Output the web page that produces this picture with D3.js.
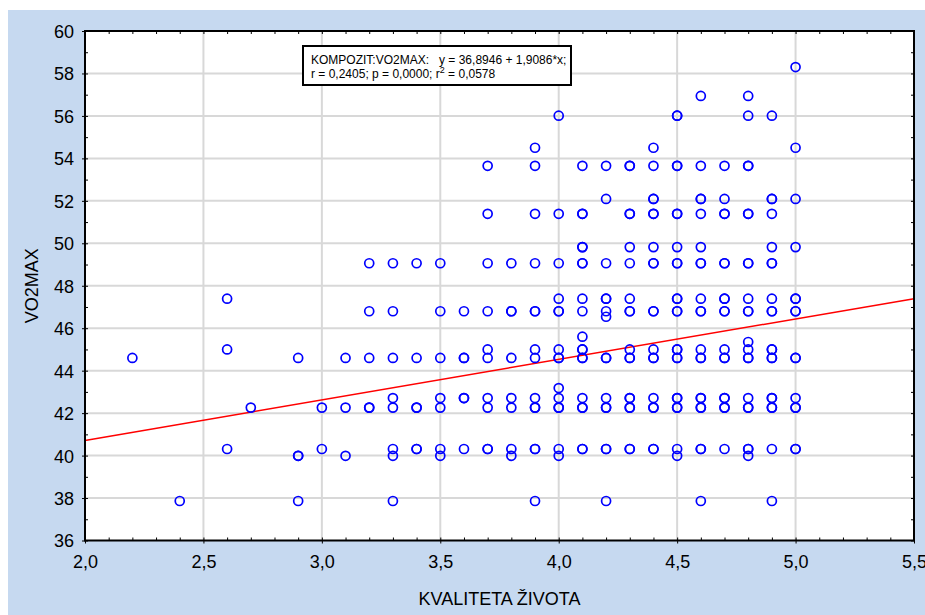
<!DOCTYPE html>
<html>
<head>
<meta charset="utf-8">
<script src="https://cdn.jsdelivr.net/npm/d3@7"></script>
<style>
  body { margin: 0; background: #fff; }
  text { font-family: "Liberation Sans", Arial, sans-serif; fill: #000; }
</style>
</head>
<body>
<svg id="chart" width="925" height="615"></svg>
<script>
// KVALITETA ZIVOTA levels, and the VO2MAX values seen at each level
// (a value listed twice = overlapping points, drawn darker)
var kvaliteta = [2.2, 2.4, 2.6, 2.7, 2.9, 3.0, 3.1, 3.2, 3.3, 3.4, 3.5, 3.6, 3.7, 3.8, 3.9,
                 4.0, 4.1, 4.2, 4.3, 4.4, 4.5, 4.6, 4.7, 4.8, 4.9, 5.0];
var vo2max = [
    [44.6],
    [37.86],
    [47.39, 45.0, 40.31],
    [42.26],
    [44.6, 39.99, 39.99, 37.86],
    [42.26, 40.31],
    [44.6, 42.26, 39.99],
    [49.06, 46.8, 44.6, 42.26, 42.26],
    [49.06, 46.8, 44.6, 42.71, 42.26, 40.31, 39.99, 37.86],
    [49.06, 44.6, 42.26, 42.26, 40.31, 40.31],
    [49.06, 46.8, 44.6, 42.71, 42.26, 40.31, 39.99],
    [46.8, 44.6, 44.6, 42.71, 42.71, 40.31],
    [53.65, 51.39, 49.06, 46.8, 45.0, 44.6, 42.71, 42.26, 40.31, 40.31],
    [49.06, 46.8, 46.8, 44.6, 42.71, 42.26, 40.31, 39.99],
    [54.5, 53.65, 51.39, 49.06, 46.8, 46.8, 45.0, 44.6, 42.71, 42.26, 42.26, 40.31, 40.31, 37.86],
    [56.01, 51.39, 49.06, 47.39, 46.8, 46.8, 45.0, 44.6, 44.6, 43.18, 42.71, 42.26, 42.26, 40.31, 39.99],
    [53.65, 51.39, 51.39, 49.82, 49.82, 49.06, 49.06, 47.39, 46.8, 45.6, 45.0, 45.0, 44.6, 44.6, 42.71, 42.26, 42.26, 40.31, 40.31],
    [53.65, 52.09, 49.06, 47.39, 47.39, 46.8, 46.54, 44.6, 44.6, 42.71, 42.26, 42.26, 40.31, 40.31, 37.86],
    [53.65, 53.65, 51.39, 51.39, 49.82, 49.06, 47.39, 46.8, 46.8, 45.0, 44.6, 44.6, 42.71, 42.71, 42.26, 42.26, 40.31, 40.31],
    [54.5, 53.65, 52.09, 52.09, 51.39, 51.39, 49.82, 49.06, 49.06, 46.8, 46.8, 45.0, 44.6, 44.6, 42.71, 42.26, 42.26, 40.31, 40.31],
    [56.01, 56.01, 53.65, 53.65, 51.39, 51.39, 49.82, 49.06, 49.06, 47.39, 47.39, 46.8, 46.8, 45.0, 45.0, 44.6, 44.6, 42.71, 42.71, 42.26, 42.26, 40.31, 39.99],
    [56.94, 53.65, 52.09, 52.09, 51.39, 49.82, 49.06, 49.06, 47.39, 46.8, 46.8, 45.0, 44.6, 44.6, 42.71, 42.71, 42.26, 42.26, 40.31, 40.31, 37.86],
    [53.65, 52.09, 51.39, 51.39, 49.06, 49.06, 47.39, 47.39, 46.8, 46.8, 45.0, 44.6, 44.6, 42.71, 42.71, 42.26, 42.26, 40.31],
    [56.94, 56.01, 53.65, 53.65, 51.39, 51.39, 49.06, 49.06, 47.39, 46.8, 46.8, 45.35, 45.0, 44.6, 44.6, 42.71, 42.26, 42.26, 40.31, 40.31, 39.99],
    [56.01, 52.09, 52.09, 51.39, 49.82, 49.06, 49.06, 47.39, 46.8, 46.8, 45.0, 45.0, 44.6, 44.6, 42.71, 42.71, 42.26, 42.26, 40.31, 37.86],
    [58.3, 54.5, 52.09, 49.82, 47.39, 47.39, 46.8, 46.8, 44.6, 44.6, 42.71, 42.26, 42.26, 40.31, 40.31]
];

var xTicks = [2.0, 2.5, 3.0, 3.5, 4.0, 4.5, 5.0, 5.5];
var yTicks = [36, 38, 40, 42, 44, 46, 48, 50, 52, 54, 56, 58, 60];
var intercept = 36.8946, slope = 1.9086;
var fitLabel = "KOMPOZIT:VO2MAX:   y = 36,8946 + 1,9086*x;";
var statLabel = ["r = 0,2405; p = 0,0000; r", "2", " = 0,0578"];

var svg = d3.select("#chart");
var plotL = 85, plotR = 914, plotT = 31, plotB = 540.5;

var x = d3.scaleLinear().domain([2, 5.5]).range([plotL, plotR]);
var y = d3.scaleLinear().domain([36, 60]).range([plotB, plotT]);
var comma = function (d) { return d3.format(".1f")(d).replace(".", ","); };

// blue backdrop + white plot area
svg.append("rect").attr("x", 8).attr("y", 10).attr("width", 917).attr("height", 605).attr("fill", "#c6d9f0");
svg.append("rect").attr("x", plotL).attr("y", plotT).attr("width", plotR - plotL).attr("height", plotB - plotT).attr("fill", "#fff");

// grid
var grid = svg.append("g").attr("stroke", "#d8d8d8").attr("stroke-width", 2);
grid.selectAll("line.gx").data(xTicks.slice(1, -1)).enter().append("line")
    .attr("x1", function (d) { return x(d); }).attr("x2", function (d) { return x(d); })
    .attr("y1", plotT).attr("y2", plotB);
grid.selectAll("line.gy").data(yTicks.slice(1, -1)).enter().append("line")
    .attr("y1", function (d) { return y(d); }).attr("y2", function (d) { return y(d); })
    .attr("x1", plotL).attr("x2", plotR);

// regression line
svg.append("line")
    .attr("x1", x(2)).attr("y1", y(intercept + slope * 2))
    .attr("x2", x(5.5)).attr("y2", y(intercept + slope * 5.5))
    .attr("stroke", "#ff0000").attr("stroke-width", 1.5);

// points
var pts = [];
kvaliteta.forEach(function (kv, i) {
    vo2max[i].forEach(function (v) { pts.push([kv, v]); });
});
svg.append("g").selectAll("circle").data(pts).enter().append("circle")
    .attr("cx", function (d) { return x(d[0]); })
    .attr("cy", function (d) { return y(d[1]); })
    .attr("r", 4.5)
    .attr("fill", "none").attr("stroke", "#0000ff").attr("stroke-width", 1.7);

// axes: minor ticks inside, major ticks outside, labels
var minorX = d3.range(20, 56).map(function (d) { return d / 10; });
var minorY = d3.range(36, 61);
function ticksOnly(g) { g.select(".domain").remove(); g.selectAll("line").attr("stroke", "#000"); }

svg.append("g").attr("transform", "translate(0," + plotB + ")")
    .call(d3.axisBottom(x).tickValues(minorX).tickSize(-3).tickFormat("")).call(ticksOnly);
svg.append("g").attr("transform", "translate(0," + plotT + ")")
    .call(d3.axisTop(x).tickValues(minorX).tickSize(-3).tickFormat("")).call(ticksOnly);
svg.append("g").attr("transform", "translate(" + plotL + ",0)")
    .call(d3.axisLeft(y).tickValues(minorY).tickSize(-3).tickFormat("")).call(ticksOnly);
svg.append("g").attr("transform", "translate(" + plotR + ",0)")
    .call(d3.axisRight(y).tickValues(minorY).tickSize(-3).tickFormat("")).call(ticksOnly);

var xAxis = svg.append("g").attr("transform", "translate(0," + plotB + ")")
    .call(d3.axisBottom(x).tickValues(xTicks).tickSize(3).tickFormat(comma)).call(ticksOnly);
xAxis.selectAll("text").attr("y", 27.5).attr("dy", 0).attr("font-size", 18)
    .attr("font-family", "Liberation Sans, Arial, sans-serif");

var yAxis = svg.append("g").attr("transform", "translate(" + plotL + ",0)")
    .call(d3.axisLeft(y).tickValues(yTicks).tickSize(3).tickFormat(d3.format("d"))).call(ticksOnly);
yAxis.selectAll("text").attr("x", -11).attr("dy", "0.36em").attr("font-size", 18)
    .attr("font-family", "Liberation Sans, Arial, sans-serif");

// plot frame
svg.append("rect").attr("x", plotL).attr("y", plotT).attr("width", plotR - plotL).attr("height", plotB - plotT)
    .attr("fill", "none").attr("stroke", "#000").attr("stroke-width", 2);

// axis titles
svg.append("text").attr("x", (plotL + plotR) / 2).attr("y", 605)
    .attr("text-anchor", "middle").attr("font-size", 18).text("KVALITETA ŽIVOTA");
svg.append("text").attr("transform", "translate(38," + ((plotT + plotB) / 2) + ") rotate(-90)")
    .attr("text-anchor", "middle").attr("font-size", 18).text("VO2MAX");

// fit legend box
var box = svg.append("g");
box.append("rect").attr("x", 303).attr("y", 46).attr("width", 268).attr("height", 39)
    .attr("fill", "#fff").attr("stroke", "#000").attr("stroke-width", 2);
box.append("text").attr("x", 311).attr("y", 63.5).attr("font-size", 12)
    .style("white-space", "pre").text(fitLabel);
var t2 = box.append("text").attr("x", 311).attr("y", 78).attr("font-size", 12);
t2.append("tspan").text(statLabel[0]);
t2.append("tspan").attr("dy", -5).attr("font-size", 9).text(statLabel[1]);
t2.append("tspan").attr("dy", 5).text(statLabel[2]);
</script>
</body>
</html>
